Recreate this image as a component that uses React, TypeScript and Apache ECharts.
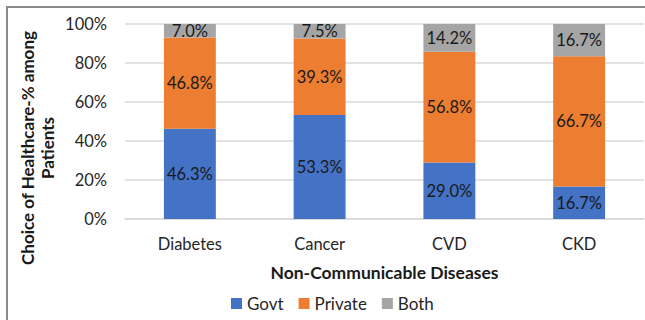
import React, { useEffect, useRef } from "react";
import * as echarts from "echarts";

const categories = ["Diabetes", "Cancer", "CVD", "CKD"];
const govt = [46.3, 53.3, 29.0, 16.7];
const priv = [46.8, 39.3, 56.8, 66.7];
const both = [7.0, 7.5, 14.2, 16.7];
const yTicks = [0, 20, 40, 60, 80, 100];
const yTitle = "Choice of Healthcare-% among\nPatients";
const xTitle = "Non-Communicable Diseases";

const FONT = "Lato";

export default function App() {
  const ref = useRef<HTMLDivElement>(null);
  useEffect(() => {
    const chart = echarts.init(ref.current!, null, { renderer: "svg" });
    const label = {
      show: true,
      position: "inside",
      color: "#1a1a1a",
      fontSize: 16.5,
      fontFamily: FONT,
      formatter: (p: any) => p.value.toFixed(1) + "%",
    };
    const mk = (name: string, data: number[], color: string) => ({
      name,
      type: "bar",
      stack: "s",
      data,
      barWidth: "40%",
      itemStyle: { color },
      label,
    });
    chart.setOption({
      animation: false,
      textStyle: { fontFamily: FONT },
      graphic: [
        {
          type: "rect",
          shape: { x: 7, y: 7, width: 700, height: 400 },
          style: { fill: "none", stroke: "#8a8a8a", lineWidth: 2 },
          silent: true,
        },
        {
          type: "text",
          x: 37,
          y: 148,
          rotation: Math.PI / 2,
          silent: true,
          style: {
            text: yTitle,
            align: "center",
            verticalAlign: "middle",
            fontSize: 17,
            fontWeight: "bold",
            lineHeight: 20,
            fill: "#1a1a1a",
            fontFamily: FONT,
          },
        },
      ],
      grid: { left: 125, right: 1, top: 24, bottom: 101 },
      legend: {
        left: 226,
        top: 290,
        itemWidth: 11,
        itemHeight: 11,
        itemGap: 15,
        icon: "rect",
        textStyle: { fontSize: 17, color: "#262626", fontFamily: FONT },
        data: ["Govt", "Private", "Both"],
      },
      xAxis: {
        type: "category",
        data: categories,
        axisTick: { show: false },
        axisLine: { lineStyle: { color: "#d9d9d9", width: 1.5 } },
        axisLabel: { fontSize: 16.5, color: "#262626", margin: 16, fontFamily: FONT },
        name: xTitle,
        nameLocation: "middle",
        nameGap: 44,
        nameTextStyle: { fontSize: 17.5, fontWeight: "bold", color: "#1a1a1a", fontFamily: FONT },
      },
      yAxis: {
        type: "value",
        min: yTicks[0],
        max: yTicks[yTicks.length - 1],
        interval: 20,
        axisLabel: {
          fontSize: 16.5,
          color: "#262626",
          margin: 18,
          fontFamily: FONT,
          formatter: (v: number) => v + "%",
        },
        splitLine: { lineStyle: { color: "#d9d9d9", width: 1.5 } },
      },
      series: [
        mk("Govt", govt, "#4472c4"),
        mk("Private", priv, "#ed7d31"),
        mk("Both", both, "#a5a5a5"),
      ],
    });
    return () => chart.dispose();
  }, []);
  return (
    <div
      ref={ref}
      style={{ position: "fixed", left: 0, top: 0, width: 645, height: 320, background: "#fff" }}
    />
  );
}
